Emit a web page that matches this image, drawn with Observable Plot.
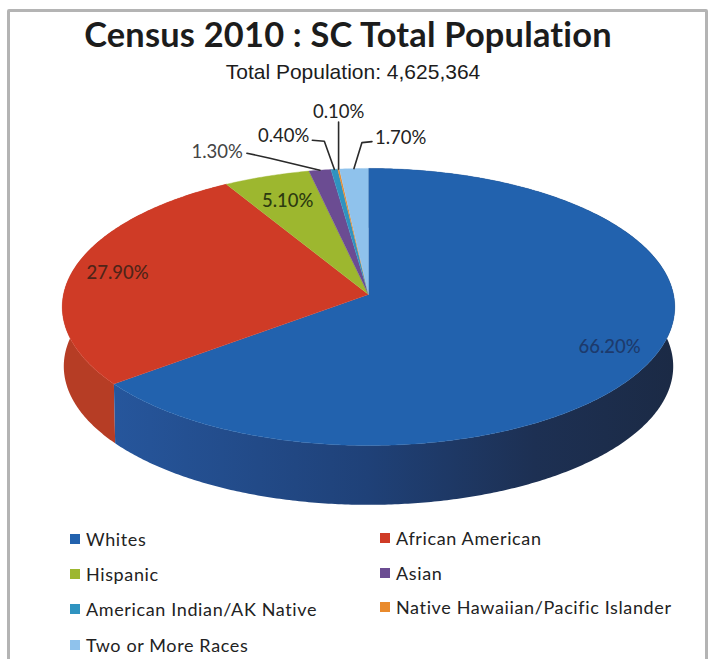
<!DOCTYPE html>
<html>
<head>
<meta charset="utf-8">
<script src="https://cdn.jsdelivr.net/npm/d3@7"></script>
<script src="https://cdn.jsdelivr.net/npm/@observablehq/plot@0.6"></script>
<style>
  html, body { margin: 0; padding: 0; background: #fff; }
  #sheet { position: relative; width: 708px; height: 659px; overflow: hidden; background: #fff; }
  #frame { position: absolute; left: 7px; top: 9px; width: 695px; height: 670px; border: 3px solid #b4b4b4; border-radius: 2px; }
  #title { position: absolute; left: 0; top: 13px; width: 696px; text-align: center; font: 700 34.4px Lato, sans-serif; color: #1c1c1c; letter-spacing: 0.2px; }
  #subtitle { position: absolute; left: 0; top: 60px; width: 706px; text-align: center; font: 21px "Liberation Sans", Arial, sans-serif; color: #1c1c1c; }
  #chart { position: absolute; left: 0; top: 100px; }
  #chart svg { display: block; overflow: visible; background: transparent; }
  .key { position: absolute; font: 18px Lato, sans-serif; letter-spacing: 0.63px; color: #222; line-height: 22px; white-space: nowrap; }
  .key i { position: absolute; left: -16px; top: 6px; width: 10px; height: 10px; }
</style>
</head>
<body>
<div id="sheet">
  <div id="frame"></div>
  <div id="title"></div>
  <div id="subtitle"></div>
  <div id="chart"></div>
</div>
<script>
const chartTitle = "Census 2010 : SC Total Population";
const chartSubtitle = "Total Population: 4,625,364";
const groups = ["Whites", "African American", "Hispanic", "Asian", "American Indian/AK Native", "Native Hawaiian/Pacific Islander", "Two or More Races"];
const percents = [66.2, 27.9, 5.1, 1.3, 0.4, 0.1, 1.7];
const percentLabels = ["66.20%", "27.90%", "5.10%", "1.30%", "0.40%", "0.10%", "1.70%"];
const sliceColors = ["#2262ae", "#cf3b26", "#9db72f", "#6b4c92", "#2f93c0", "#e98a2c", "#8fc2ec"];

document.getElementById("title").textContent = chartTitle;
document.getElementById("subtitle").textContent = chartSubtitle;

// Tilted disc: a unit circle under a mild perspective, so the near half looks deeper.
const tilt = 0.09;
const thickness = 0.432;
const project = (angle, r = 1) => {
  const u = Math.sin(angle) * r, v = -Math.cos(angle) * r, w = 1 - tilt * v;
  return {x: u / w, y: v / w};
};

const arcs = d3.pie().sort(null).value(d => d)(percents);

const rimPoints = (a) => {
  const steps = Math.max(2, Math.ceil((a.endAngle - a.startAngle) / 0.01));
  return d3.range(steps + 1).map(i => a.startAngle + (a.endAngle - a.startAngle) * i / steps);
};

const topFaces = arcs.flatMap((a, i) => [
  {name: groups[i], ...project(0, 0)},
  ...rimPoints(a).map(t => ({name: groups[i], ...project(t)}))
]);

const wall = (i) => {
  const rim = rimPoints(arcs[i]).map(t => project(t));
  const lower = rim.map(p => ({x: p.x * 0.995, y: p.y + thickness})).reverse();
  return [...rim, ...lower];
};

// Values printed on the slices, placed along each slice's middle angle.
const midAngle = a => (a.startAngle + a.endAngle) / 2;
const insideRadius = [0.85, 0.85, 0.78];
const insideLabels = insideRadius.map((r, i) => ({label: percentLabels[i], ...project(midAngle(arcs[i]), r)}));
const insideInk = ["#1d3a6c", "#4f2418", "#2c3a10"];

// Call-outs for the thin slices: elbow and text end are pixel offsets from the rim.
const unitX = 305, unitY = 137.4;
const elbows = [
  {i: 3, knee: [-50, -12], end: [-73, -17], anchor: "end", gap: -4, rise: -1, ink: "#444"},
  {i: 4, knee: [-10, -28], end: [-22, -29], anchor: "end", gap: -3, rise: -4, ink: "#222"},
  {i: 5, knee: [0, -45], end: [0, -47], anchor: "middle", gap: 0, rise: -10, ink: "#222"},
  {i: 6, knee: [8, -26], end: [18, -27], anchor: "start", gap: 3, rise: -4, ink: "#222"}
];
const leaders = elbows.flatMap(({i, knee, end}) => {
  const p = project(midAngle(arcs[i]));
  return [[0, 0], knee, end].map(([dx, dy]) => ({name: groups[i], x: p.x + dx / unitX, y: p.y + dy / unitY}));
});
const calloutText = elbows.map(({i, end, anchor, gap, rise, ink}) => {
  const p = project(midAngle(arcs[i]));
  return {label: percentLabels[i], anchor, ink, x: p.x + (end[0] + gap) / unitX, y: p.y + (end[1] + rise) / unitY};
});
const calloutMark = anchor => Plot.text(calloutText.filter(d => d.anchor === anchor), {
  x: "x", y: "y", text: "label", textAnchor: anchor, fill: d => d.ink,
  fontFamily: "Lato, sans-serif", fontSize: 18.5, letterSpacing: 0.6
});

const defs = () => {
  const d = d3.create("svg:defs");
  const g = d.append("linearGradient").attr("id", "blueWall");
  [[0, "#26569c"], [0.45, "#1f4178"], [0.75, "#1d3053"], [1, "#1b2a45"]].forEach(([o, c]) =>
    g.append("stop").attr("offset", o).attr("stop-color", c));
  return d.node();
};

const chart = Plot.plot({
  width: 708,
  height: 420,
  margin: 0,
  x: {domain: [-1, 1], range: [368 - unitX, 368 + unitX], axis: null},
  y: {domain: [-1, 1], range: [194 - unitY, 194 + unitY], axis: null},
  color: {domain: groups, range: sliceColors},
  marks: [
    defs,
    Plot.line(wall(1), {x: "x", y: "y", fill: "#b63d25", stroke: "none"}),
    Plot.line(wall(0), {x: "x", y: "y", fill: "url(#blueWall)", stroke: "none"}),
    Plot.line(topFaces, {x: "x", y: "y", z: "name", fill: "name", stroke: "name", strokeWidth: 0.4}),
    Plot.line(leaders, {x: "x", y: "y", z: "name", stroke: "#2a2a2a", strokeWidth: 1.6, curve: "linear"}),
    Plot.text(insideLabels, {x: "x", y: "y", text: "label", fill: (d, i) => insideInk[i], fontFamily: "Lato, sans-serif", fontSize: 18.5, fontWeight: 500, letterSpacing: 0.4}),
    calloutMark("end"),
    calloutMark("middle"),
    calloutMark("start")
  ]
});
document.getElementById("chart").append(chart);

// Two-column key under the disc.
const keySpots = [[86, 528], [396, 527], [86, 563], [396, 562], [86, 598], [396, 596], [86, 634]];
const sheet = document.getElementById("sheet");
groups.forEach((g, i) => {
  const el = document.createElement("div");
  el.className = "key";
  el.style.left = keySpots[i][0] + "px";
  el.style.top = keySpots[i][1] + "px";
  el.textContent = g;
  const swatch = document.createElement("i");
  swatch.style.background = sliceColors[i];
  el.append(swatch);
  sheet.append(el);
});
</script>
</body>
</html>
